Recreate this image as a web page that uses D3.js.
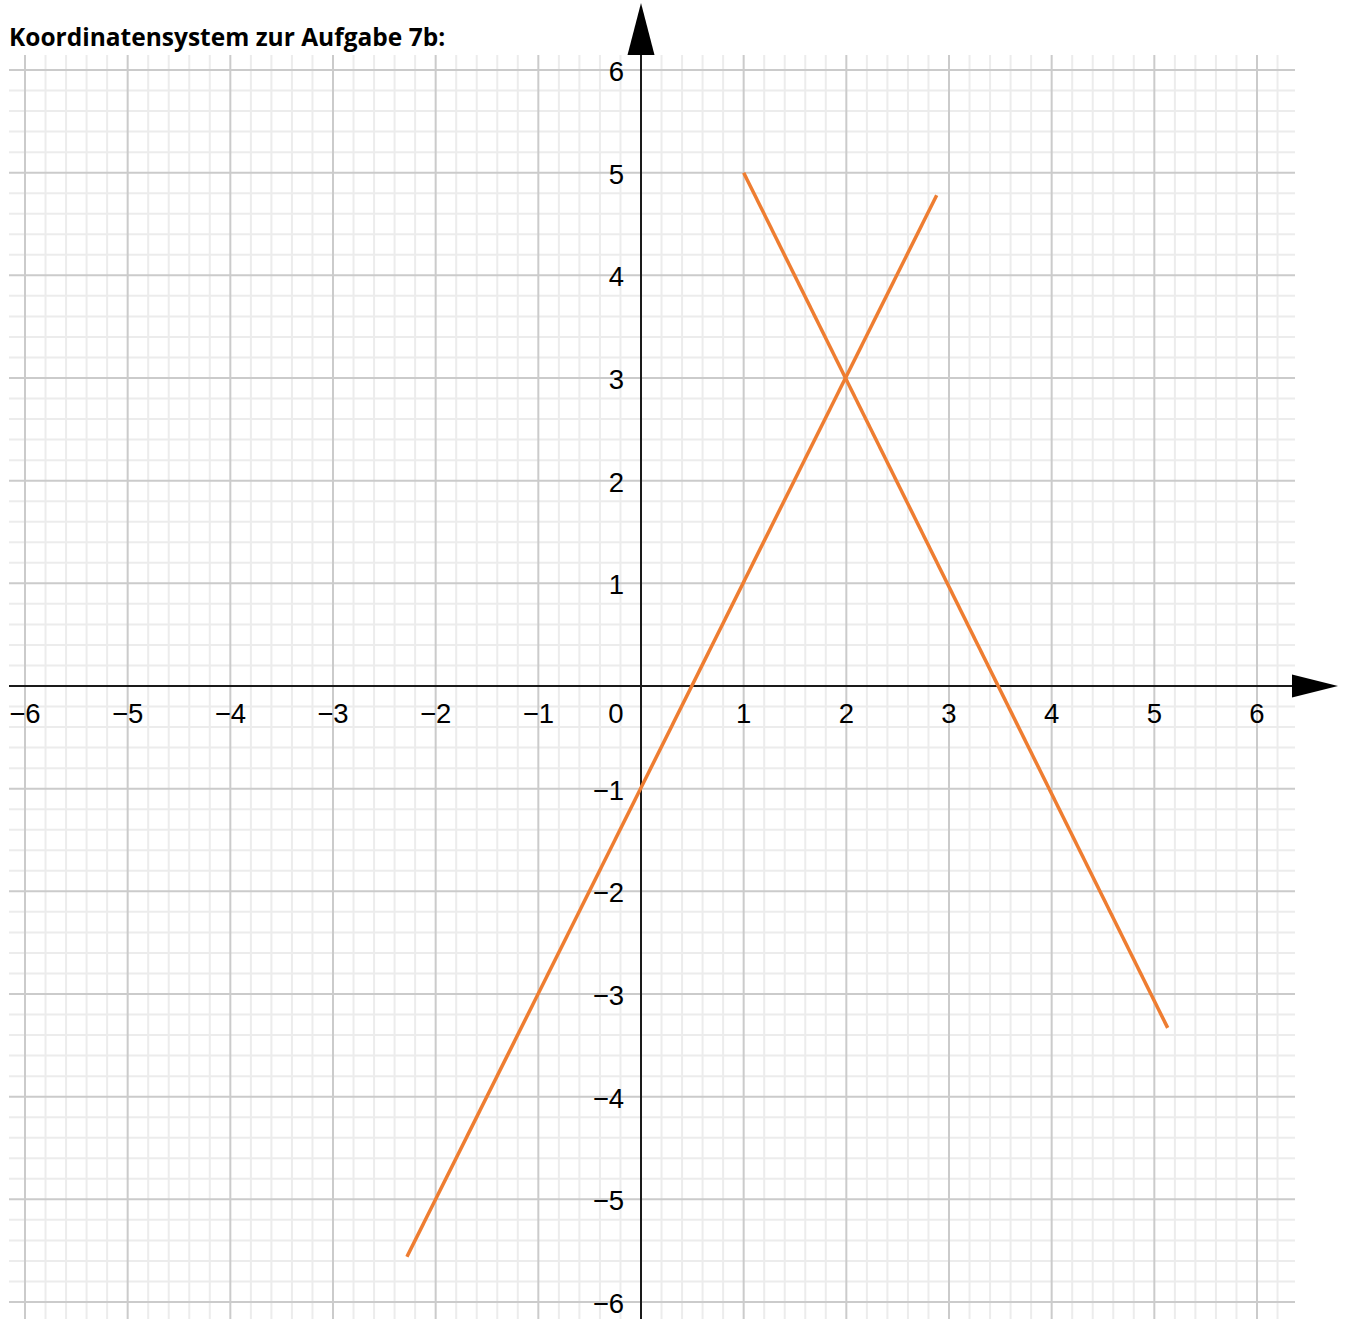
<!DOCTYPE html>
<html><head><meta charset="utf-8">
<script src="https://cdn.jsdelivr.net/npm/d3@7"></script>
<style>body{margin:0;background:#fff}svg{display:block}</style>
</head><body>
<svg id="c" width="1348" height="1319"></svg>
<script>
const title = "Koordinatensystem zur Aufgabe 7b:";
const xTicks = [-6,-5,-4,-3,-2,-1,1,2,3,4,5,6];
const yTicks = [-6,-5,-4,-3,-2,-1,1,2,3,4,5,6];
const line1 = [[-2.28,-5.56],[2.88,4.78]];   // y = 2x - 1
const line2 = [[1,5],[5.13,-3.33]];         // y = -2x + 7

const svg = d3.select("#c");
const x = d3.scaleLinear().domain([-6,6]).range([25,1257]);
const y = d3.scaleLinear().domain([-6,6]).range([1302,70]);
const gx0 = 9, gx1 = 1295, gy0 = 55, gy1 = 1319;

const minor = d3.range(-32,33).map(i=>i/5).filter(v=>Math.abs(v*5%5)>1e-6);
const major = d3.range(-6,7);

const g = svg.append("g");
g.selectAll(".mvx").data(minor.filter(v=>x(v)>=gx0&&x(v)<=gx1)).join("line")
  .attr("x1",d=>x(d)).attr("x2",d=>x(d)).attr("y1",gy0).attr("y2",gy1)
  .attr("stroke","#ececec").attr("stroke-width",2);
g.selectAll(".mhy").data(minor.filter(v=>y(v)>=gy0&&y(v)<=gy1)).join("line")
  .attr("y1",d=>y(d)).attr("y2",d=>y(d)).attr("x1",gx0).attr("x2",gx1)
  .attr("stroke","#ececec").attr("stroke-width",2);
g.selectAll(".Mvx").data(major).join("line")
  .attr("x1",d=>x(d)).attr("x2",d=>x(d)).attr("y1",gy0).attr("y2",gy1)
  .attr("stroke","#cbcbcb").attr("stroke-width",2);
g.selectAll(".Mhy").data(major).join("line")
  .attr("y1",d=>y(d)).attr("y2",d=>y(d)).attr("x1",gx0).attr("x2",gx1)
  .attr("stroke","#cbcbcb").attr("stroke-width",2);

svg.append("line").attr("x1",gx0).attr("x2",1294).attr("y1",y(0)).attr("y2",y(0))
  .attr("stroke","#1a1a1a").attr("stroke-width",2);
svg.append("path").attr("d",`M1292,${y(0)-11.5}L1338,${y(0)}L1292,${y(0)+11.5}Z`).attr("fill","#000");
svg.append("line").attr("x1",x(0)).attr("x2",x(0)).attr("y1",gy1).attr("y2",53)
  .attr("stroke","#1a1a1a").attr("stroke-width",2);
svg.append("path").attr("d",`M${x(0)-13.5},55L${x(0)},3L${x(0)+13.5},55Z`).attr("fill","#000");

const font = "'Liberation Sans', Arial, sans-serif";
const fs = 27.5;
svg.selectAll(".xt").data(xTicks).join("text")
  .attr("x",d=>x(d)).attr("y",y(0)+37).attr("text-anchor","middle")
  .attr("font-family",font).attr("font-size",fs).attr("fill","#000")
  .text(d=>d<0?"\u2212"+(-d):d);
svg.append("text").attr("x",x(0)-25).attr("y",y(0)+37).attr("text-anchor","middle")
  .attr("font-family",font).attr("font-size",fs).text("0");
svg.selectAll(".yt").data(yTicks).join("text")
  .attr("x",x(0)-17).attr("y",d=>y(d)+11).attr("text-anchor","end")
  .attr("font-family",font).attr("font-size",fs).attr("fill","#000")
  .text(d=>d<0?"\u2212"+(-d):d);

const ln = d3.line().x(d=>x(d[0])).y(d=>y(d[1]));
[line1,line2].forEach(l=>svg.append("path").attr("d",ln(l))
  .attr("fill","none").attr("stroke","#ee7d31").attr("stroke-width",3.5));

svg.append("text").attr("x",9).attr("y",46)
  .attr("font-family","'Open Sans', Lato, sans-serif").attr("font-weight","bold")
  .attr("font-size",24.5).attr("fill","#000").text(title);
</script>
</body></html>
